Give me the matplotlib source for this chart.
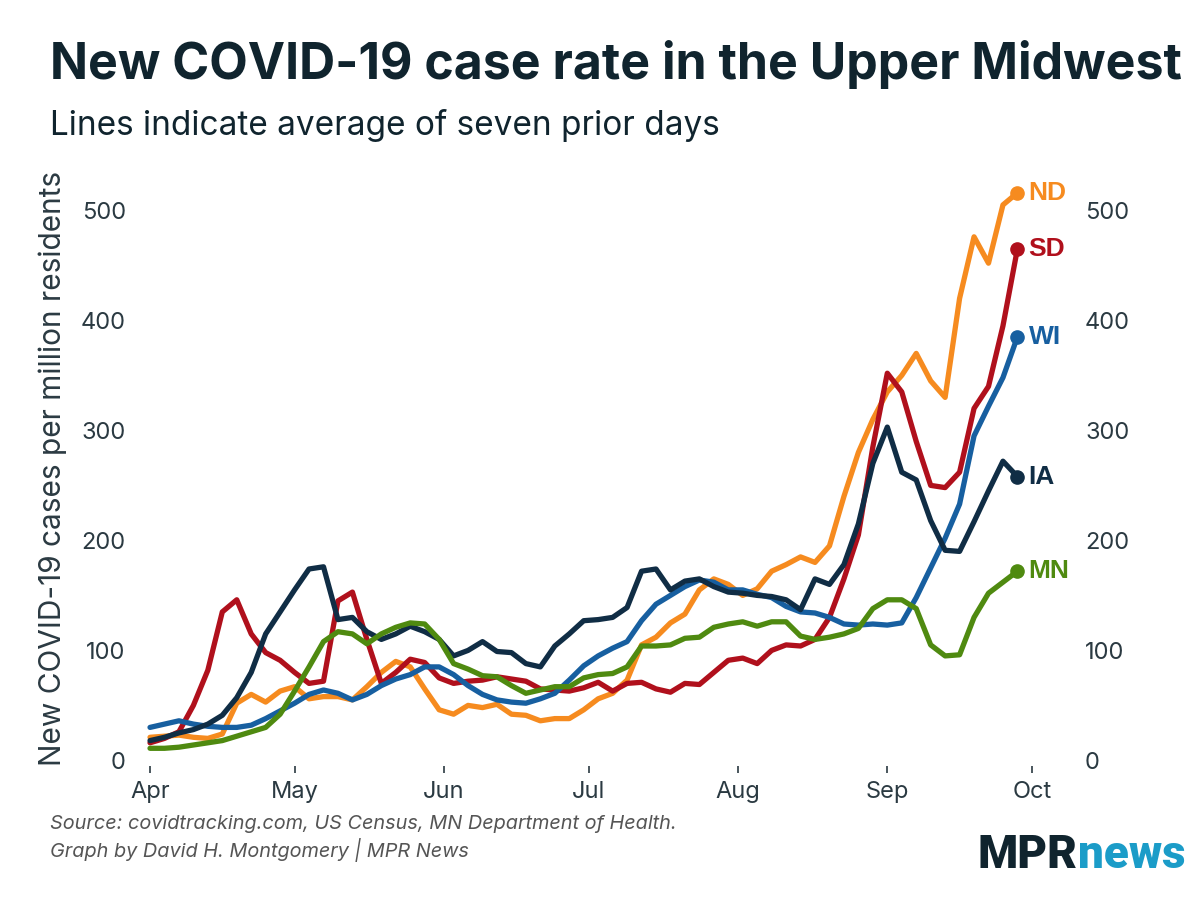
import numpy as np
import pandas as pd
import matplotlib
matplotlib.use("Agg")
import matplotlib.pyplot as plt
import matplotlib.dates as mdates

# values every third day, Apr 1 .. Sep 28 2020
dates = pd.date_range("2020-04-01", "2020-09-28", freq="3D")

nd = [21, 22, 23, 21, 20, 24, 52, 60, 53, 63, 67, 56, 58, 58, 55, 67, 80, 90, 85, 65,
      46, 42, 50, 48, 51, 42, 41, 36, 38, 38, 46, 56, 61, 73, 105, 112, 125, 133, 155, 165,
      160, 150, 156, 172, 178, 185, 180, 195, 240, 280, 310, 335, 350, 370, 345, 330, 420, 476, 452, 505,
      516]
sd = [16, 20, 26, 50, 82, 135, 146, 115, 98, 91, 80, 70, 72, 145, 153, 110, 70, 80, 92, 89,
      75, 70, 72, 73, 76, 74, 72, 65, 64, 63, 66, 71, 63, 70, 71, 65, 62, 70, 69, 80,
      91, 93, 88, 100, 105, 104, 110, 130, 165, 205, 285, 352, 335, 290, 250, 248, 262, 320, 340, 395,
      465]
wi = [30, 33, 36, 33, 31, 30, 30, 32, 38, 45, 52, 60, 64, 61, 55, 60, 68, 74, 78, 85,
      85, 78, 68, 60, 55, 53, 52, 56, 61, 73, 86, 95, 102, 108, 127, 142, 150, 158, 164, 162,
      155, 155, 151, 148, 140, 135, 134, 130, 124, 123, 124, 123, 125, 148, 175, 202, 233, 295, 322, 348,
      385]
ia = [18, 21, 25, 28, 33, 41, 57, 80, 115, 135, 155, 174, 176, 128, 130, 117, 110, 115, 122, 117,
      110, 95, 100, 108, 99, 98, 88, 85, 104, 115, 127, 128, 130, 139, 172, 174, 155, 163, 165, 158,
      153, 152, 150, 149, 146, 137, 165, 160, 178, 215, 270, 303, 262, 255, 218, 191, 190, 217, 245, 272,
      258]
mn = [11, 11, 12, 14, 16, 18, 22, 26, 30, 42, 63, 85, 108, 117, 115, 106, 115, 121, 125, 124,
      110, 88, 83, 77, 76, 68, 61, 64, 67, 67, 75, 78, 79, 85, 104, 104, 105, 111, 112, 121,
      124, 126, 122, 126, 126, 113, 110, 112, 115, 120, 138, 146, 146, 138, 105, 95, 96, 130, 152, 162,
      172]

states = ["ND", "SD", "WI", "IA", "MN"]
series = [nd, sd, wi, ia, mn]
colors = ["#f68b1f", "#b0101c", "#175fa0", "#102d45", "#4f8a10"]

text_col = "#2b3a42"
title_col = "#10242e"

fig = plt.figure(figsize=(12, 9), dpi=100)
ax = fig.add_axes([0.121, 0.149, 0.767, 0.66])

for name, vals, c in zip(states, series, colors):
    ax.plot(dates, vals, color=c, lw=3.8, solid_joinstyle="round", solid_capstyle="round")
    ax.plot(dates[-1], vals[-1], "o", color=c, ms=9.5)
    ax.annotate(name, (dates[-1], vals[-1]), xytext=(8, 0), textcoords="offset points",
                va="center", ha="left", color=c, fontsize=19, fontweight="bold",
                family="Liberation Sans")

ax.set_xlim(pd.Timestamp("2020-03-31"), pd.Timestamp("2020-10-08"))
ax.set_ylim(-5, 535)
ax.set_yticks([0, 100, 200, 300, 400, 500])
ax.xaxis.set_major_locator(mdates.MonthLocator())
ax.xaxis.set_major_formatter(mdates.DateFormatter("%b"))

for s in ax.spines.values():
    s.set_visible(False)
ax.tick_params(axis="y", length=0, labelsize=17, labelcolor=text_col, pad=14,
               labelright=True, right=False)
ax.tick_params(axis="x", length=5, width=1.2, color=text_col, labelsize=17,
               labelcolor=text_col, pad=6)
for lab in ax.get_xticklabels() + ax.get_yticklabels():
    lab.set_family("Inter")

ax.set_ylabel("New COVID-19 cases per million residents", fontsize=21.5, color=text_col,
              family="Inter", labelpad=10)

fig.text(0.042, 0.928, "New COVID-19 case rate in the Upper Midwest", fontsize=36,
         fontweight="bold", color=title_col, family="Inter", va="center")
fig.text(0.042, 0.861, "Lines indicate average of seven prior days", fontsize=24,
         color=title_col, family="Inter", va="center")

fig.text(0.042, 0.084, "Source: covidtracking.com, US Census, MN Department of Health.",
         fontsize=14.3, style="italic", color="#555555", family="Inter", va="center")
fig.text(0.042, 0.056, "Graph by David H. Montgomery | MPR News",
         fontsize=14.3, style="italic", color="#555555", family="Inter", va="center")

# logo, right edge near x=1185
t1 = fig.text(0.0, 0.035, "MPR", fontsize=33, fontweight="heavy", color="#10242e",
              family="Roboto", va="baseline")
t2 = fig.text(0.0, 0.035, "news", fontsize=33, fontweight="heavy", color="#1b9cc8",
              family="Roboto", va="baseline")
fig.canvas.draw()
w1 = t1.get_window_extent().width / fig.bbox.width
w2 = t2.get_window_extent().width / fig.bbox.width
x0 = 1185 / 1200 - w1 - w2
t1.set_x(x0)
t2.set_x(x0 + w1)

fig.savefig("out.png", dpi=100, facecolor="white")
